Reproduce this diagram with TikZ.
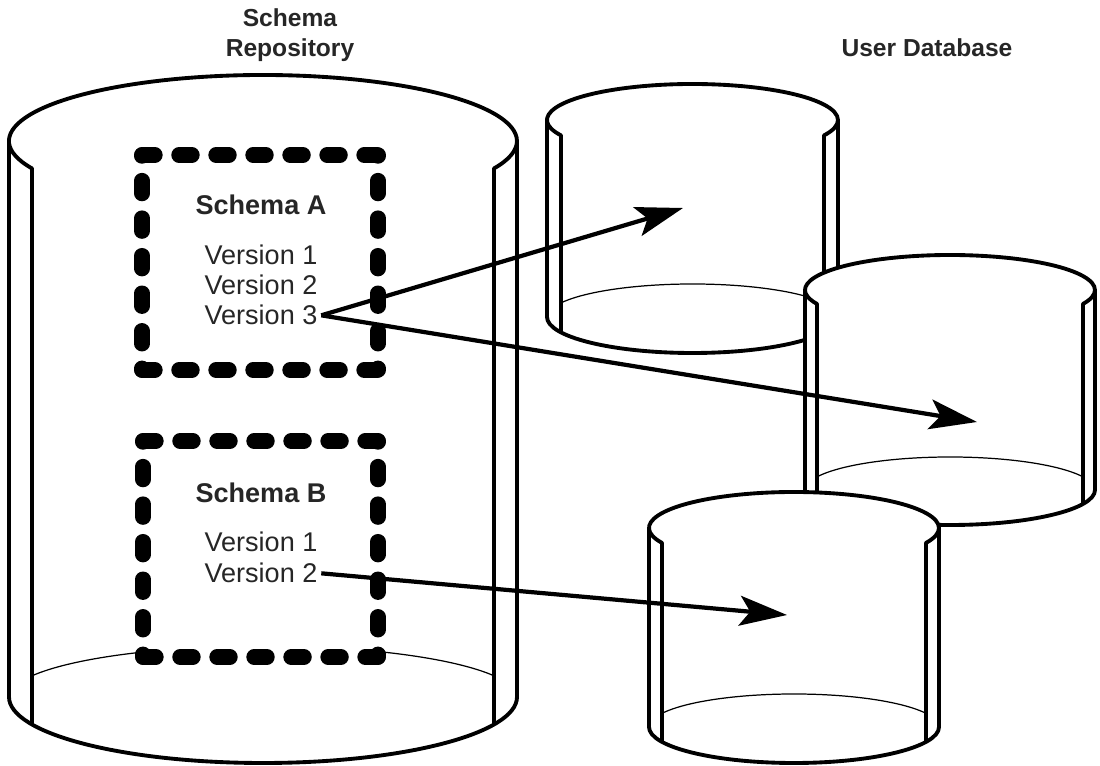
\documentclass[tikz,border=0pt]{standalone}
\usepackage{fontspec}
\setmainfont{Liberation Sans}
\usetikzlibrary{arrows.meta}

% drum: centre x, top y, bottom y, x radius, y radius, rim, floor y radius
\newcommand\drawdrum[7]{%
  \pgfmathsetmacro\drumang{acos((#4-#6)/#4)}%
  \pgfmathsetmacro\drumdy{#5*sin(\drumang)}%
  \pgfmathsetmacro\druml{#1-#4}%
  \pgfmathsetmacro\drumr{#1+#4}%
  \pgfmathsetmacro\drumil{#1-#4+#6}%
  \pgfmathsetmacro\drumir{#1+#4-#6}%
  \fill[white] (\druml,#2) -- (\druml,#3)
    arc[start angle=180,end angle=0,x radius=#4,y radius=#5] -- (\drumr,#2)
    arc[start angle=0,end angle=-180,x radius=#4,y radius=#5] -- cycle;
  % open rim and inner wall
  \draw[drum] (\drumil,#3+\drumdy) -- (\drumil,#2+\drumdy)
    arc[start angle=180-\drumang,end angle=360+\drumang,x radius=#4,y radius=#5]
    -- (\drumir,#3+\drumdy);
  % outer wall
  \draw[drum] (\druml,#2) -- (\druml,#3)
    arc[start angle=180,end angle=0,x radius=#4,y radius=#5] -- (\drumr,#2);
  \draw[drumfloor] ([shift={(180+\drumang:#4 and #7)}]#1,#3)
    arc[start angle=180+\drumang,end angle=360-\drumang,x radius=#4,y radius=#7];
}

% dashed frame: x1, y1, x2, y2
\newcommand\schemaframe[4]{%
  \fill[white] (#1,#2) rectangle (#3,#4);
  \draw[schemaedge,dash pattern=on 7.37pt off 13.7pt] (#1,#2) -- (#3,#2);
  \draw[schemaedge,dash pattern=on 7.37pt off 13.7pt] (#1,#4) -- (#3,#4);
  \draw[schemaedge,dash pattern=on 7.37pt off 14pt,dash phase=6.8pt] (#1,#2) -- (#1,#4);
  \draw[schemaedge,dash pattern=on 7.37pt off 14pt,dash phase=6.8pt] (#3,#2) -- (#3,#4);
}

\tikzset{
  drum/.style={line width=2.2pt,line join=round},
  drumfloor/.style={line width=0.7pt},
  schemaedge/.style={line width=8.8pt,line cap=round},
  vtext/.style={font=\fontsize{15.4}{18}\selectfont,text=black!85,inner sep=2pt},
  boxhead/.style={font=\fontsize{15.4}{18}\selectfont\bfseries,text=black!85,inner sep=0pt},
  headtext/.style={font=\fontsize{14}{17}\selectfont\bfseries,text=black!85,inner sep=0pt},
  link/.style={line width=2.4pt,-{Stealth[length=27pt,width=17pt,inset=6pt]}},
}

\begin{document}
\begin{tikzpicture}[x=0.02cm,y=-0.02cm]
  \useasboundingbox (0,0) rectangle (1100,766);

  % headings
  \node[headtext,anchor=base] (repoTitle) at (290,27) {Schema};
  \node[headtext,anchor=base] (repoTitle2) at (290,57) {Repository};
  \node[headtext,anchor=base] (userTitle) at (927,57) {User Database};

  % schema repository
  \drawdrum{263}{141}{697}{254}{66}{23}{51}

  % schema A
  \schemaframe{142}{155}{378}{370}
  \node[boxhead,anchor=base] (schemaA) at (261,215) {Schema A};
  \node[vtext,anchor=base] (verA1) at (261,265) {Version 1};
  \node[vtext,anchor=base] (verA2) at (261,295) {Version 2};
  \node[vtext,anchor=base] (verA3) at (261,325) {Version 3};

  % schema B
  \schemaframe{143}{441}{378}{657}
  \node[boxhead,anchor=base] (schemaB) at (261,503) {Schema B};
  \node[vtext,anchor=base] (verB1) at (261,552) {Version 1};
  \node[vtext,anchor=base] (verB2) at (261,583) {Version 2};

  % user databases, back to front
  \drawdrum{692.5}{120}{317}{145.5}{36}{14}{33}
  \drawdrum{950}{290}{490}{145}{35}{12}{33}
  \drawdrum{794}{528}{727}{145}{36}{13}{33}

  \coordinate (userA1) at (683,208);
  \coordinate (userA2) at (977,422);
  \coordinate (userB) at (787,615);

  \draw[link] (verA3.east) -- (userA1);
  \draw[link] (verA3.east) -- (userA2);
  \draw[link] (verB2.east) -- (userB);
\end{tikzpicture}
\end{document}
